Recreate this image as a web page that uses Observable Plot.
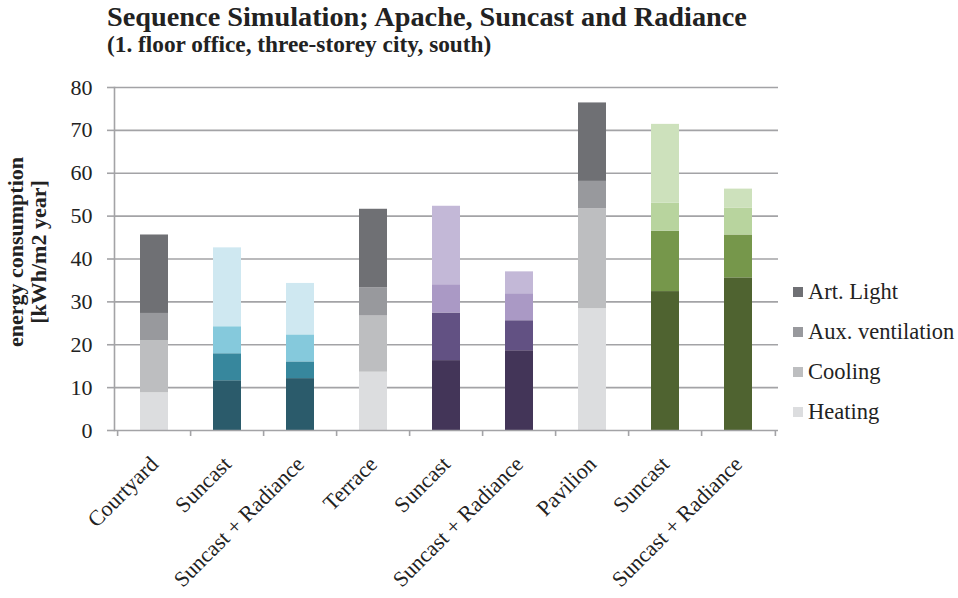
<!DOCTYPE html>
<html>
<head>
<meta charset="utf-8">
<script src="https://cdn.jsdelivr.net/npm/d3@7"></script>
<script src="https://cdn.jsdelivr.net/npm/@observablehq/plot@0.6"></script>
<style>
  body { margin: 0; background: #fff; }
  #wrap { position: relative; width: 958px; height: 598px; font-family: "Liberation Serif", "Times New Roman", serif; color: #222; }
  #wrap svg { position: absolute; left: 0; top: 0; }
  .title { position: absolute; left: 107px; top: 3.6px; font-size: 28.3px; line-height: 25px; font-weight: bold; white-space: nowrap; }
  .subtitle { position: absolute; left: 107px; top: 34.4px; font-size: 23.3px; line-height: 20px; font-weight: bold; white-space: nowrap; }
  .ylab { position: absolute; left: 27px; top: 252px; width: 300px; margin-left: -150px; margin-top: -23px; transform: rotate(-90deg); text-align: center; font-size: 22px; font-weight: bold; line-height: 23px; }
  .legend { position: absolute; left: 793px; top: 279px; }
  .legend div { height: 40px; line-height: 26px; font-size: 22.5px; white-space: nowrap; display: flex; align-items: flex-start; }
  .legend span.sw { display: inline-block; width: 10px; height: 10px; margin: 8px 5px 0 0; }
</style>
</head>
<body>
<div id="wrap"></div>
<script>
// ---- data ----
const labels = ["Courtyard", "Suncast", "Suncast + Radiance", "Terrace", "Suncast", "Suncast + Radiance", "Pavilion", "Suncast", "Suncast + Radiance"];
const groups = ["grey", "teal", "teal", "grey", "purple", "purple", "grey", "green", "green"];
const components = ["Heating", "Cooling", "Aux. ventilation", "Art. Light"];
const heating = [8.8, 11.6, 12.1, 13.6, 16.3, 18.6, 28.4, 32.4, 35.6];
const cooling = [12.1, 6.3, 3.9, 13.1, 11.1, 7.0, 23.3, 14.1, 10.0];
const auxVent = [6.4, 6.3, 6.3, 6.6, 6.6, 6.3, 6.4, 6.5, 6.3];
const artLight = [18.3, 18.4, 12.0, 18.3, 18.3, 5.1, 18.3, 18.4, 4.4];
const yTicks = [0, 10, 20, 30, 40, 50, 60, 70, 80];
const title = "Sequence Simulation; Apache, Suncast and Radiance";
const subtitle = "(1. floor office, three-storey city, south)";
const yLabel = ["energy consumption", "[kWh/m2 year]"];

// colours per group, in component order (Heating, Cooling, Aux, Light)
const palettes = {
  grey:   ["#dcdddf", "#bdbec0", "#98999d", "#6f7074"],
  teal:   ["#2b5b6b", "#37879d", "#85c9dc", "#cfe8f1"],
  purple: ["#433558", "#625183", "#aa99c5", "#c3b8d7"],
  green:  ["#4f6330", "#76974b", "#b8d49e", "#cde1bc"]
};

const series = [heating, cooling, auxVent, artLight];
const ids = labels.map((_, i) => i);
const rows = [];
ids.forEach(i => {
  components.forEach((c, k) => {
    rows.push({id: i, label: labels[i], component: c, value: series[k][i], color: palettes[groups[i]][k]});
  });
});

// ---- layout ----
const W = 958, H = 598, mL = 114, mR = 180, mT = 87, mB = 168;
const step = (W - mL - mR) / ids.length;
const axisColor = "#a3a3a6";

const chart = Plot.plot({
  width: W, height: H,
  marginLeft: mL, marginRight: mR, marginTop: mT, marginBottom: mB,
  style: {fontFamily: '"Liberation Serif", "Times New Roman", serif', background: "transparent", color: "#222"},
  x: {type: "band", domain: ids, paddingInner: 0.61, paddingOuter: 0.305},
  y: {domain: [0, 80]},
  color: {type: "identity"},
  marks: [
    Plot.gridY(yTicks.filter(d => d > 0), {stroke: axisColor, strokeOpacity: 1, strokeWidth: 1.6}),
    Plot.axisY(yTicks, {tickSize: 7, tickPadding: 15, stroke: axisColor, strokeWidth: 1.6, fontSize: 22, fill: "#222", label: null}),
    Plot.frame({anchor: "left", stroke: axisColor, strokeWidth: 1.6}),
    Plot.barY(rows, {x: "id", y: "value", fill: "color", order: null}),
    Plot.ruleY([0], {stroke: axisColor, strokeWidth: 1.6}),
    Plot.ruleX(ids, {x: d => d, y1: 0, y2: 0, insetBottom: -6, dx: -step / 2, stroke: axisColor, strokeWidth: 1.6}),
    Plot.ruleX(ids.slice(-1), {x: d => d, y1: 0, y2: 0, insetBottom: -6, dx: step / 2, stroke: axisColor, strokeWidth: 1.6}),
    Plot.axisX({tickSize: 0, tickPadding: 30, tickRotate: -45, fontSize: 22, fill: "#222", tickFormat: i => labels[i], label: null})
  ]
});

const wrap = document.getElementById("wrap");
wrap.appendChild(chart);

const t = document.createElement("div"); t.className = "title"; t.textContent = title; wrap.appendChild(t);
const st = document.createElement("div"); st.className = "subtitle"; st.textContent = subtitle; wrap.appendChild(st);
const yl = document.createElement("div"); yl.className = "ylab"; yl.innerHTML = yLabel.map(s => `<div>${s}</div>`).join(""); wrap.appendChild(yl);

const lg = document.createElement("div"); lg.className = "legend";
components.slice().reverse().forEach(c => {
  const k = components.indexOf(c);
  const row = document.createElement("div");
  const sw = document.createElement("span"); sw.className = "sw"; sw.style.background = palettes.grey[k];
  row.appendChild(sw);
  row.appendChild(document.createTextNode(c));
  lg.appendChild(row);
});
wrap.appendChild(lg);
</script>
</body>
</html>
